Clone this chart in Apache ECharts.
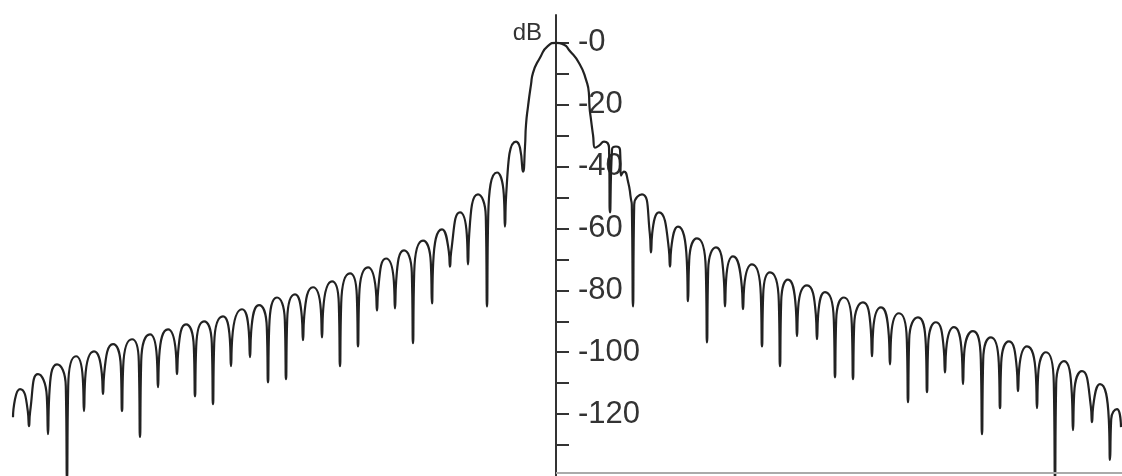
<!DOCTYPE html>
<html>
<head>
<meta charset="utf-8">
<script src="https://cdn.jsdelivr.net/npm/echarts@6/dist/echarts.min.js"></script>
<style>
html,body{margin:0;padding:0;background:#fff;}
#chart{width:1122px;height:476px;}
</style>
</head>
<body>
<div id="chart"></div>
<script>
// ---- data (angle units, level in dB) ----
const startPos = [-54.3, -54.1];
const startDb  = [-121.0, -115.2];

const leftPeakPos = [-53.6,-51.8,-49.9,-48.0,-46.2,-44.3,-42.4,-40.6,-38.8,-37.0,-35.2,-33.3,-31.4,-29.7,-27.9,-26.1,-24.3,-22.4,-20.6,-18.8,-17.0,-15.2,-13.3,-11.4,-9.6,-7.8,-5.9,-4.0];
const leftPeakDb  = [-111.9,-107.1,-103.9,-101.3,-99.7,-97.4,-95.8,-94.2,-92.6,-91.0,-90.0,-88.4,-86.1,-84.8,-82.3,-81.3,-79.0,-77.1,-74.5,-72.6,-69.7,-67.1,-63.9,-60.3,-54.8,-49.0,-41.9,-31.9];
const leftNullPos = [-52.7,-50.8,-48.9,-47.2,-45.3,-43.4,-41.6,-39.8,-37.9,-36.1,-34.3,-32.5,-30.6,-28.8,-27.0,-25.3,-23.4,-21.6,-19.8,-17.9,-16.1,-14.3,-12.4,-10.6,-8.8,-6.9,-5.1];
const leftNullDb  = [-123.9,-126.5,-141,-119.0,-113.5,-119.0,-127.4,-111.3,-107.1,-114.2,-116.8,-104.5,-101.6,-109.7,-108.7,-96.1,-95.2,-104.5,-98.1,-86.5,-85.8,-97.1,-84.2,-72.3,-71.6,-85.2,-59.4];
const leftShoulderDb = [-119.0,-114.2,-111.0,-108.4,-106.8,-104.5,-102.9,-101.3,-99.7,-98.1,-97.1,-95.5,-93.2,-91.9,-89.4,-88.4,-86.1,-84.2,-81.6,-79.7,-76.8,-74.2,-71.0,-67.4,-61.9,-56.1,-49.0];

const corePos = [-3.6,-3.3,-3.1,-3.0,-2.8,-2.5,-2.3,-1.6,-0.8,0,0.8,1.3,2.3,3.0,3.3,3.35,3.5,3.7,3.9,4.3,4.8,5.3,5.4,5.6,6.0,6.4,6.5,6.8,7.2,7.5];
const coreDb  = [-33.9,-41.6,-33.5,-26.5,-20.6,-13.5,-9.7,-4.8,-1.0,0,-0.6,-2.3,-6.5,-11.9,-16.8,-20.6,-24.8,-29.7,-33.9,-33.2,-31.9,-33.9,-54.8,-34.5,-33.5,-34.5,-42.9,-41.6,-44.8,-50.6];

const rightNullPos = [7.7,9.5,11.4,13.2,15.1,16.9,18.7,20.6,22.4,24.1,26.1,27.9,29.7,31.6,33.4,35.2,37.1,38.9,40.7,42.6,44.4,46.2,48.1,49.9,51.7,53.6,55.4];
const rightNullDb  = [-85.2,-67.7,-72.3,-83.5,-96.8,-85.2,-86.1,-98.1,-104.5,-94.8,-95.8,-108.1,-108.7,-101.3,-103.9,-116.1,-112.9,-106.5,-110.3,-126.5,-118.1,-112.6,-118.1,-141,-125.2,-122.6,-134.8];
const rightShoulderDb = [-52.3,-61.6,-66.5,-70.3,-73.2,-76.1,-78.7,-81.3,-83.5,-85.5,-87.7,-89.4,-91.0,-92.6,-94.5,-95.8,-97.4,-99.0,-100.3,-102.3,-103.5,-105.2,-107.1,-110.0,-113.2,-117.4,-121.6];
const rightPeakPos = [8.6,10.3,12.2,14.1,16.0,17.7,19.6,21.4,23.2,25.1,26.9,28.8,30.7,32.5,34.3,36.2,38.0,39.8,41.7,43.5,45.3,47.1,49.0,50.8,52.6,54.4,56.1];
const rightPeakDb  = [-49.0,-54.8,-59.4,-63.2,-66.1,-69.0,-71.6,-74.2,-76.5,-78.4,-80.6,-82.3,-83.9,-85.5,-87.4,-88.7,-90.3,-91.9,-93.2,-95.2,-96.5,-98.1,-100.0,-102.9,-106.1,-110.3,-118.4];

const endPos = [56.5];
const endDb  = [-124.2];

const yTickValues  = [-130,-120,-110,-100,-90,-80,-70,-60,-50,-40,-30,-20,-10,0];
const yLabelValues = [0,-20,-40,-60,-80,-100,-120];

// ---- build line points ----
const SPIKE = 0.12;
const pts = [];
function spike(pos, depth, shoulder) {
  pts.push([pos - SPIKE, shoulder]);
  pts.push([pos, depth]);
  pts.push([pos + SPIKE, shoulder]);
}
for (let i = 0; i < startPos.length; i++) pts.push([startPos[i], startDb[i]]);
for (let i = 0; i < leftPeakPos.length; i++) {
  pts.push([leftPeakPos[i], leftPeakDb[i]]);
  if (i < leftNullPos.length) spike(leftNullPos[i], leftNullDb[i], leftShoulderDb[i]);
}
for (let i = 0; i < corePos.length; i++) pts.push([corePos[i], coreDb[i]]);
for (let i = 0; i < rightNullPos.length; i++) {
  spike(rightNullPos[i], rightNullDb[i], rightShoulderDb[i]);
  pts.push([rightPeakPos[i], rightPeakDb[i]]);
}
for (let i = 0; i < endPos.length; i++) pts.push([endPos[i], endDb[i]]);

const XMIN = -55.6, XMAX = 56.6;
const chartEl = document.getElementById('chart');
const chart = echarts.init(chartEl, null, {renderer: 'canvas'});
// place the y axis where angle = 0 lies inside the 1122px-wide grid
const axisOffset = -Math.round((0 - XMIN) / (XMAX - XMIN) * chartEl.clientWidth);
chart.setOption({
  animation: false,
  backgroundColor: '#ffffff',
  grid: {left: 0, right: 0, top: 15, height: 462, containLabel: false},
  xAxis: {
    type: 'value', min: XMIN, max: XMAX, show: false
  },
  yAxis: {
    type: 'value', min: -140, max: 9,
    position: 'left', offset: axisOffset,
    name: 'dB', nameLocation: 'end', nameGap: -18,
    nameTextStyle: {align: 'right', verticalAlign: 'middle', padding: [0, 14, 0, 0],
      fontSize: 24, color: '#333', fontFamily: 'Liberation Sans, Arial, sans-serif'},
    axisLine: {show: true, onZero: false, lineStyle: {color: '#333', width: 2}},
    axisTick: {show: true, inside: true, length: 13, customValues: yTickValues,
      lineStyle: {color: '#333', width: 2}},
    axisLabel: {show: true, inside: true, margin: 22, customValues: yLabelValues,
      fontSize: 31, color: '#333', fontFamily: 'Liberation Sans, Arial, sans-serif',
      formatter: v => (v === 0 ? '-0' : String(v))},
    splitLine: {show: false}
  },
  series: [{
    type: 'line',
    data: pts,
    showSymbol: false,
    smooth: 0.6,
    clip: true,
    lineStyle: {color: '#222', width: 2.2},
    markLine: {
      silent: true, symbol: 'none', label: {show: false},
      lineStyle: {color: '#aaa', width: 2, type: 'solid'},
      data: [[{coord: [0, -139]}, {coord: [XMAX, -139]}]]
    }
  }]
});
</script>
</body>
</html>
